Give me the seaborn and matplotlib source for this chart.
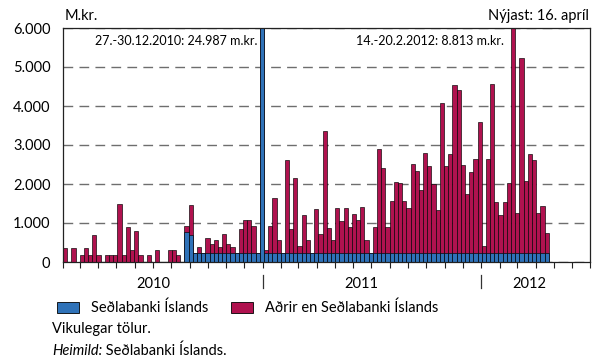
import pandas as pd
import matplotlib
matplotlib.use('Agg')
import matplotlib.pyplot as plt
from matplotlib.patches import Patch
import matplotlib.transforms as mtransforms
import seaborn as sns

# Vikulegar tölur, fyrsta vika hefst 1. feb. 2010, nýjast 16. apríl 2012
first_week = '2010-02-01'
axis_end = '2012-07-01'

sedlabanki = [
    0, 0, 0, 0, 0, 0, 0, 0, 0, 0,
    0, 0, 0, 0, 0, 0, 0, 0, 0, 0,
    0, 0, 0, 0, 0, 0, 0, 0, 0, 770,
    690, 240, 240, 240, 240, 240, 240, 240, 240, 240,
    240, 240, 240, 240, 240, 240, 240, 24987, 240, 240,
    240, 240, 240, 240, 240, 240, 240, 240, 240, 240,
    240, 240, 240, 240, 240, 240, 240, 240, 240, 240,
    240, 240, 240, 240, 240, 240, 240, 240, 240, 240,
    240, 240, 240, 240, 240, 240, 240, 240, 240, 240,
    240, 240, 240, 240, 240, 240, 240, 240, 240, 240,
    240, 240, 240, 240, 240, 240, 240, 240, 240, 240,
    240, 240, 240, 240, 240, 240,
]
adrir = [
    350, 0, 350, 0, 170, 350, 170, 700, 170, 0,
    170, 170, 170, 1500, 170, 890, 320, 790, 170, 0,
    170, 0, 320, 0, 0, 320, 320, 170, 0, 145,
    760, 0, 140, 0, 375, 215, 315, 145, 470, 215,
    145, 0, 600, 830, 830, 675, 0, 0, 75, 675,
    1410, 315, 0, 2365, 615, 1920, 160, 955, 315, 0,
    1130, 485, 3110, 640, 325, 1155, 820, 1155, 655, 990,
    830, 1160, 335, 0, 665, 2655, 2160, 665, 1325, 1810,
    1795, 1315, 1155, 2265, 2085, 1600, 2555, 2215, 1750, 1105,
    3835, 2220, 2540, 4300, 4165, 2240, 1510, 2070, 2400, 3345,
    160, 2390, 4330, 1300, 975, 1300, 1790, 8573, 1015, 4990,
    1835, 2520, 2365, 1025, 1185, 510,
]
series_names = ['Seðlabanki Íslands', 'Aðrir en Seðlabanki Íslands']
year_labels = ['2010', '2011', '2012']
year_label_dates = ['2010-07-02', '2011-06-15', '2012-03-22']
ytick_values = [0, 1000, 2000, 3000, 4000, 5000, 6000]
ytick_labels = ['0', '1.000', '2.000', '3.000', '4.000', '5.000', '6.000']

blue = '#2f72b8'
red = '#b0124f'

plt.rcParams['font.family'] = ['Lato', 'DejaVu Sans']

df = pd.DataFrame({'vika': range(len(adrir)), 'sedlabanki': sedlabanki, 'adrir': adrir})
df['samtals'] = df['sedlabanki'] + df['adrir']

start = pd.Timestamp(first_week)


def pos(d):
    # week index position of a date (bars centred on week index)
    return (pd.Timestamp(d) - start).days / 7 - 0.5


fig = plt.figure(figsize=(5.98, 3.62), dpi=100)
ax = fig.add_axes([63 / 598, 1 - 262 / 362, 527 / 598, 234 / 362])

# stacked look: total in red, Seðlabanki part drawn over it in blue
sns.barplot(data=df, x='vika', y='samtals', native_scale=True, width=1, color=red,
            saturation=1, edgecolor='black', linewidth=0.45, errorbar=None, ax=ax)
sns.barplot(data=df, x='vika', y='sedlabanki', native_scale=True, width=1, color=blue,
            saturation=1, edgecolor='black', linewidth=0.45, errorbar=None, ax=ax)

ax.set_ylim(0, 6000)
ax.set_yticks(ytick_values)
ax.set_yticklabels(ytick_labels, fontsize=10.5)
ax.tick_params(axis='y', length=0, pad=9)
ax.yaxis.grid(True, linestyle=(0, (7, 4.5)), color='#6e6e6e', linewidth=1)
ax.set_axisbelow(True)

months = pd.date_range(first_week, axis_end, freq='MS')
ax.set_xlim(pos(first_week), pos(axis_end))
ax.set_xticks([pos(m) for m in months])
ax.set_xticklabels([])
ax.tick_params(axis='x', length=4, width=0.8, direction='out', color='#222222')
ax.set_xlabel('')
ax.set_ylabel('')
for s in ax.spines.values():
    s.set_color('#222222')
    s.set_linewidth(0.9)

trans = mtransforms.blended_transform_factory(ax.transData, ax.transAxes)
for lab, d in zip(year_labels, year_label_dates):
    ax.text(pos(d), -0.095, lab, transform=trans, ha='center', va='center', fontsize=10.5)
for d in ['2011-01-01', '2012-01-01']:
    ax.plot([pos(d), pos(d)], [-0.056, -0.112], transform=trans, color='#333333',
            linewidth=0.9, clip_on=False)

ax.text(0.370, 0.944, '27.-30.12.2010: 24.987 m.kr.', transform=ax.transAxes,
        ha='right', va='center', fontsize=9)
ax.text(0.837, 0.944, '14.-20.2.2012: 8.813 m.kr.', transform=ax.transAxes,
        ha='right', va='center', fontsize=9)

fig.text(65 / 598, 1 - 16 / 362, 'M.kr.', ha='left', va='center', fontsize=10.5)
fig.text(589 / 598, 1 - 16 / 362, 'Nýjast: 16. apríl', ha='right', va='center', fontsize=10.5)

handles = [Patch(facecolor=blue, edgecolor='black', linewidth=0.6),
           Patch(facecolor=red, edgecolor='black', linewidth=0.6)]
fig.legend(handles, series_names, loc='center left', bbox_to_anchor=(57 / 598, 1 - 308 / 362),
           ncol=2, frameon=False, fontsize=10.5, handlelength=1.5, handleheight=0.8,
           handletextpad=0.8, columnspacing=1.6, borderpad=0, borderaxespad=0)

fig.text(52 / 598, 1 - 329 / 362, 'Vikulegar tölur.', ha='left', va='center', fontsize=10.5)
src = fig.text(52 / 598, 1 - 351 / 362, 'Heimild:', ha='left', va='center', fontsize=10.5,
               style='italic')
fig.canvas.draw()
bb = src.get_window_extent()
fig.text(bb.x1 / fig.bbox.width, 1 - 351 / 362, ' Seðlabanki Íslands.', ha='left',
         va='center', fontsize=10.5)

fig.savefig('out.png', dpi=100)
